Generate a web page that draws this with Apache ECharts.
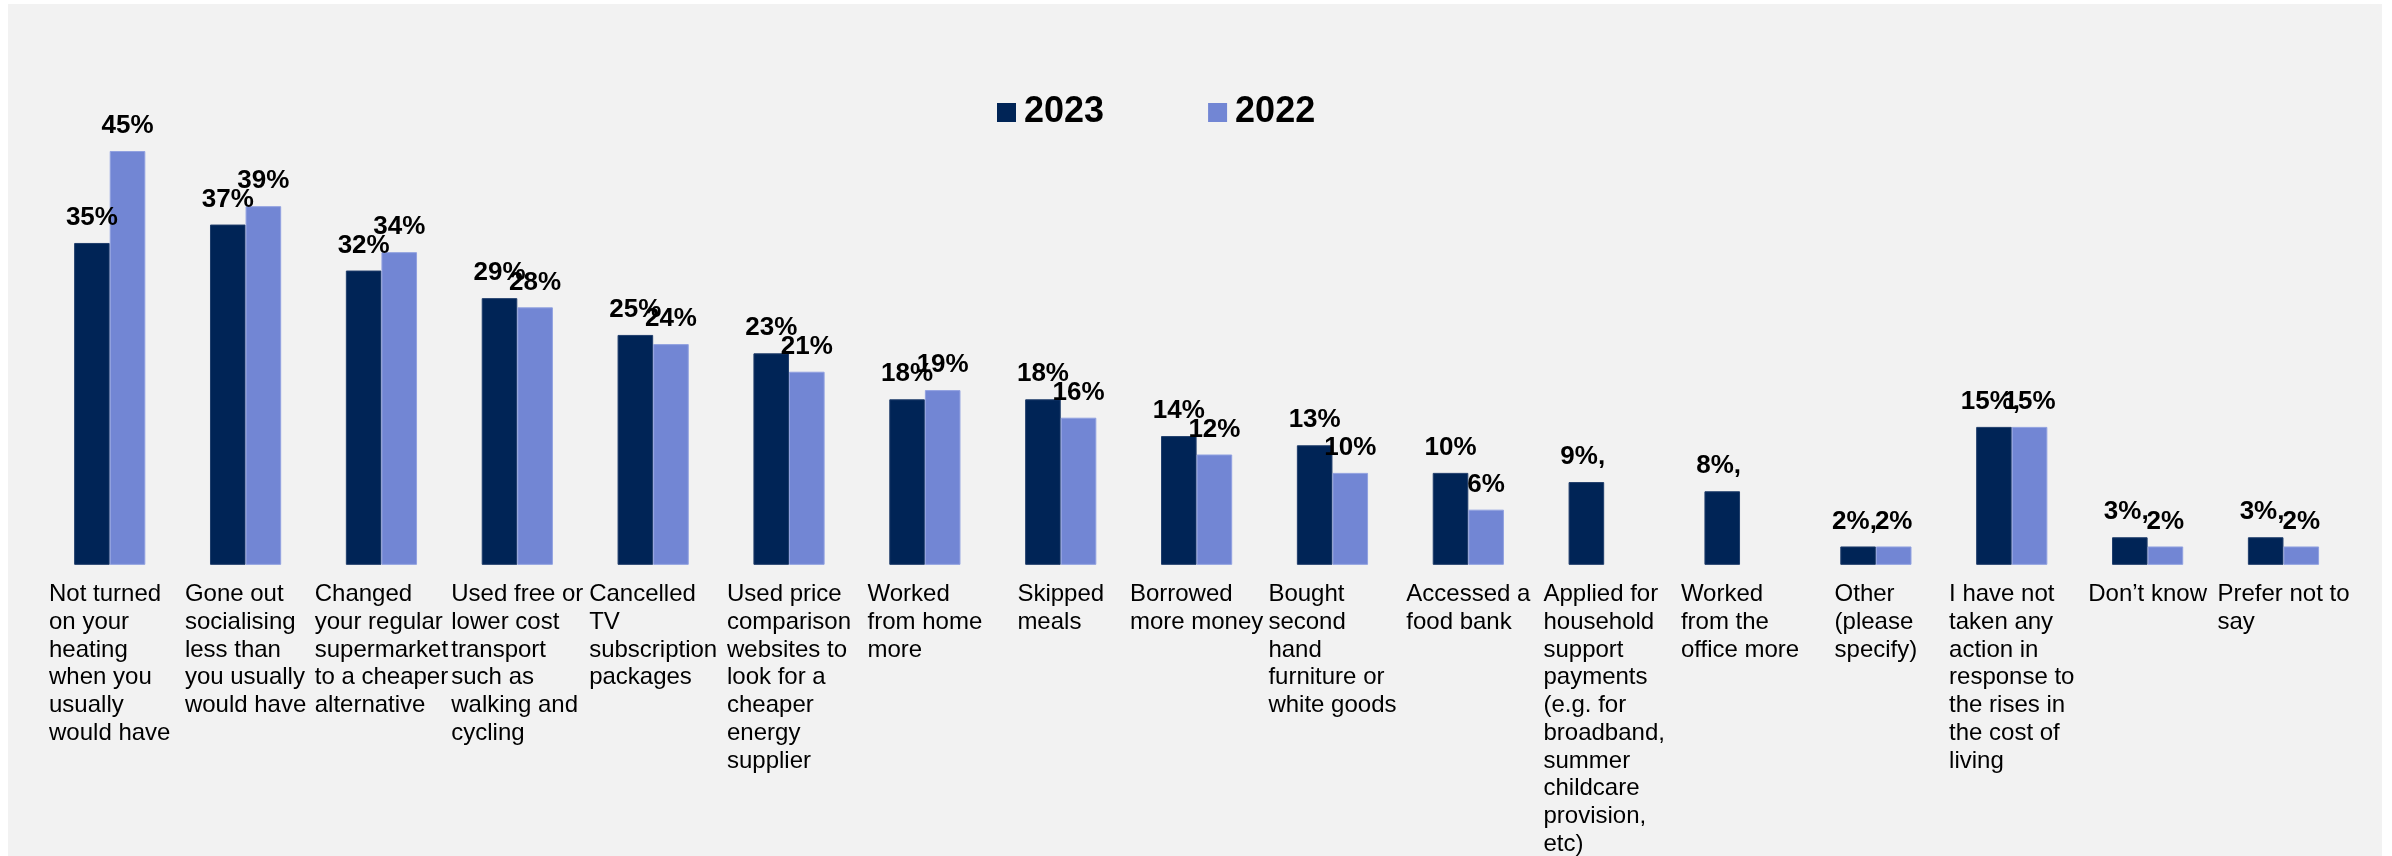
<!DOCTYPE html>
<html>
<head>
<meta charset="utf-8">
<script src="https://cdn.jsdelivr.net/npm/echarts@6/dist/echarts.min.js"></script>
<style>
  html, body { margin: 0; padding: 0; background: #ffffff; width: 2392px; height: 856px; overflow: hidden; }
  #chart { position: absolute; left: 8px; top: 4px; width: 2374px; height: 852px; }
</style>
</head>
<body>
<div id="chart"></div>
<script>
// Actions taken in response to the rising cost of living, 2023 vs 2022 (% of respondents)
const categories = [
  'Not turned\non your\nheating\nwhen you\nusually\nwould have',
  'Gone out\nsocialising\nless than\nyou usually\nwould have',
  'Changed\nyour regular\nsupermarket\nto a cheaper\nalternative',
  'Used free or\nlower cost\ntransport\nsuch as\nwalking and\ncycling',
  'Cancelled\nTV\nsubscription\npackages',
  'Used price\ncomparison\nwebsites to\nlook for a\ncheaper\nenergy\nsupplier',
  'Worked\nfrom home\nmore',
  'Skipped\nmeals',
  'Borrowed\nmore money',
  'Bought\nsecond\nhand\nfurniture or\nwhite goods',
  'Accessed a\nfood bank',
  'Applied for\nhousehold\nsupport\npayments\n(e.g. for\nbroadband,\nsummer\nchildcare\nprovision,\netc)',
  'Worked\nfrom the\noffice more',
  'Other\n(please\nspecify)',
  'I have not\ntaken any\naction in\nresponse to\nthe rises in\nthe cost of\nliving',
  'Don\u2019t know',
  'Prefer not to\nsay'
];

const seriesNames = ['2023', '2022'];

const values2023 = [35, 37, 32, 29, 25, 23, 18, 18, 14, 13, 10, 9, 8, 2, 15, 3, 3];
const values2022 = [45, 39, 34, 28, 24, 21, 19, 16, 12, 10, 6, null, null, 2, 15, 2, 2];

// 2023 labels that carry a trailing separator
const separated2023 = [false, false, false, false, false, false, false, false, false, false, false,
                       true, true, true, true, true, true];

const FONT = '"Liberation Sans", Arial, Helvetica, sans-serif';
const NAVY = '#002456';
const PERIWINKLE = '#7286d4';

const chart = echarts.init(document.getElementById('chart'), null, { renderer: 'canvas' });

const valueLabel = {
  show: true,
  position: 'top',
  distance: 12,
  color: '#000000',
  fontFamily: FONT,
  fontWeight: 'bold',
  fontSize: 26
};

chart.setOption({
  backgroundColor: '#f2f2f2',
  animation: false,
  legend: {
    data: seriesNames,
    left: 989,
    top: 90.5,
    padding: 0,
    itemWidth: 19,
    itemHeight: 19,
    itemGap: 104,
    icon: 'rect',
    itemStyle: { borderWidth: 0 },
    textStyle: {
      fontFamily: FONT,
      fontWeight: 'bold',
      fontSize: 36,
      lineHeight: 36,
      color: '#000000',
      padding: [0, 0, 0, 3]
    }
  },
  grid: { left: 33.8, right: 30.6, top: 101, bottom: 288.5, containLabel: false },
  xAxis: {
    type: 'category',
    data: categories,
    axisLine: { show: false },
    axisTick: { show: false },
    splitLine: { show: false },
    axisLabel: {
      interval: 0,
      margin: 16,
      align: 'center',
      verticalAlign: 'top',
      formatter: function (value) {
        return value.split('\n').map(function (line) { return '{a|' + line + '}'; }).join('\n');
      },
      rich: {
        a: {
          align: 'left',
          fontFamily: FONT,
          fontSize: 24,
          lineHeight: 27.7,
          color: '#000000'
        }
      }
    }
  },
  yAxis: {
    type: 'value',
    min: 0,
    max: 50,
    show: false,
    splitLine: { show: false }
  },
  series: [
    {
      name: seriesNames[0],
      type: 'bar',
      data: values2023,
      barWidth: '26.2%',
      barGap: '0%',
      itemStyle: { color: NAVY, borderColor: '#1f3d6b', borderWidth: 1 },
      label: Object.assign({}, valueLabel, {
        formatter: function (p) {
          return p.value + '%' + (separated2023[p.dataIndex] ? ', ' : '');
        }
      })
    },
    {
      name: seriesNames[1],
      type: 'bar',
      data: values2022,
      barWidth: '26.2%',
      barGap: '0%',
      itemStyle: { color: PERIWINKLE, borderColor: '#91a1e0', borderWidth: 1 },
      label: Object.assign({}, valueLabel, {
        formatter: function (p) { return p.value + '%'; }
      })
    }
  ]
});
</script>
</body>
</html>
